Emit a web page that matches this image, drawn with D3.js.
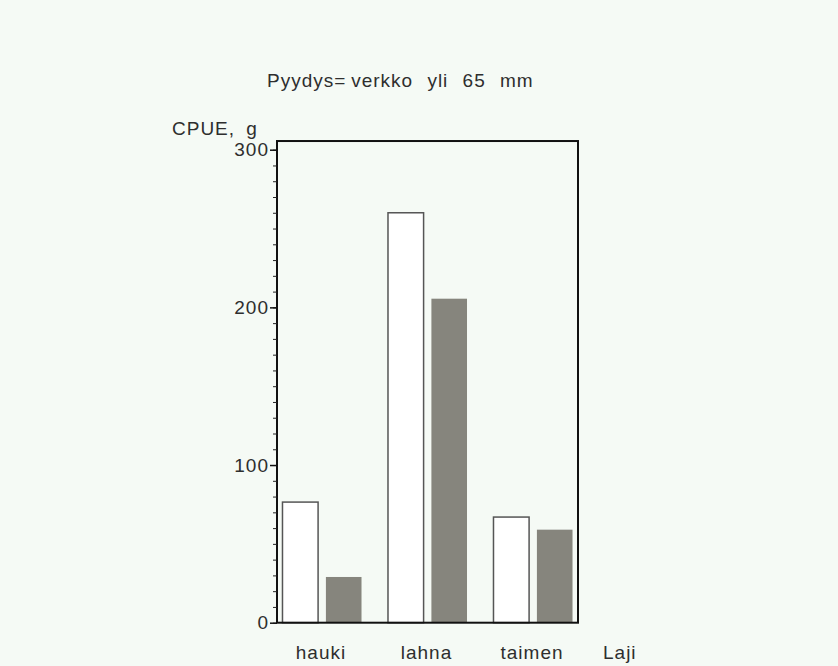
<!DOCTYPE html>
<html>
<head>
<meta charset="utf-8">
<script src="https://cdn.jsdelivr.net/npm/d3@7"></script>
<style>
  body { margin: 0; background: #f5faf5; }
  text { font-family: "Liberation Sans", Arial, sans-serif; fill: #2e2e2e; white-space: pre; letter-spacing: 1px; }
</style>
</head>
<body>
<script>
var w = 838;
var h = 666;

// data
var lajit = ["hauki", "lahna", "taimen"];
var sarjat = ["s1", "s2"];
var arvot1 = [76.5, 260, 67];
var arvot2 = [29, 205.5, 59];
var yTicks = [0, 100, 200, 300];

var data = lajit.map(function(d, i){
    return { laji: d, s1: arvot1[i], s2: arvot2[i] };
});

var colour = d3.scaleOrdinal()
                .domain(sarjat)
                .range(["#ffffff", "#86857d"]);

var left = 277, right = 578, bottom = 622.7;

var y = d3.scaleLinear()
            .domain([0, 300])
            .range([bottom, 149.7]);

var x = d3.scaleBand()
            .domain(lajit)
            .range([left, right])
            .paddingInner(0.251)
            .paddingOuter(0.052);

var x1 = d3.scaleBand()
            .domain(sarjat)
            .range([0, x.bandwidth()])
            .paddingInner(0.18);

var svg = d3.select("body").append("svg")
                .attr("width", w)
                .attr("height", h);

svg.append("rect")
    .attr("width", w)
    .attr("height", h)
    .attr("fill", "#f5faf5");

//title
svg.append("text")
    .attr("x", 267)
    .attr("y", 87)
    .style("font-size", "19px")
    .style("word-spacing", "8px")
    .text("Pyydys=\u2009verkko yli 65 mm");

svg.append("text")
    .attr("x", 172)
    .attr("y", 135)
    .style("font-size", "19px")
    .style("word-spacing", "5px")
    .text("CPUE, g");

//bars
var groups = svg.selectAll(".ryhma")
    .data(data)
    .enter()
    .append("g")
    .attr("class", "ryhma")
    .attr("transform", function(d){ return "translate(" + x(d.laji) + ",0)"; });

groups.selectAll("rect")
    .data(function(d){ return sarjat.map(function(k){ return { key: k, value: d[k] }; }); })
    .enter()
    .append("rect")
    .attr("x", function(d){ return x1(d.key); })
    .attr("y", function(d){ return y(d.value); })
    .attr("width", x1.bandwidth())
    .attr("height", function(d){ return bottom - y(d.value); })
    .attr("fill", function(d){ return colour(d.key); })
    .attr("stroke", function(d){ return d.key == "s1" ? "#555" : "none"; })
    .attr("stroke-width", 1.5);

//frame
svg.append("rect")
    .attr("x", left)
    .attr("y", y(305.5))
    .attr("width", right - left)
    .attr("height", bottom - y(305.5))
    .attr("fill", "none")
    .attr("stroke", "#111")
    .attr("stroke-width", 2);

//y axis, minor then major
svg.append("g")
    .attr("transform", "translate(" + left + ",0)")
    .call(d3.axisLeft(y).ticks(30).tickSize(4).tickFormat(""))
    .call(function(g){ g.select(".domain").remove(); })
    .selectAll("line").attr("stroke", "#222");

var yAxis = svg.append("g")
    .attr("transform", "translate(" + left + ",0)")
    .call(d3.axisLeft(y).tickValues(yTicks).tickSize(7).tickPadding(1));

yAxis.select(".domain").remove();
yAxis.selectAll("line").attr("stroke", "#111").attr("stroke-width", 1.5);
yAxis.selectAll("text")
    .style("font-size", "19px")
    .style("font-family", "Liberation Sans, Arial, sans-serif")
    .attr("fill", "#2e2e2e");

//x labels
svg.selectAll(".lajinimi")
    .data(lajit)
    .enter()
    .append("text")
    .attr("class", "lajinimi")
    .attr("x", function(d){ return x(d) + x.bandwidth() / 2 - 1; })
    .attr("y", 659)
    .attr("text-anchor", "middle")
    .style("font-size", "19px")
    .text(function(d){ return d; });

svg.append("text")
    .attr("x", 603)
    .attr("y", 659)
    .style("font-size", "19px")
    .text("Laji");
</script>
</body>
</html>
